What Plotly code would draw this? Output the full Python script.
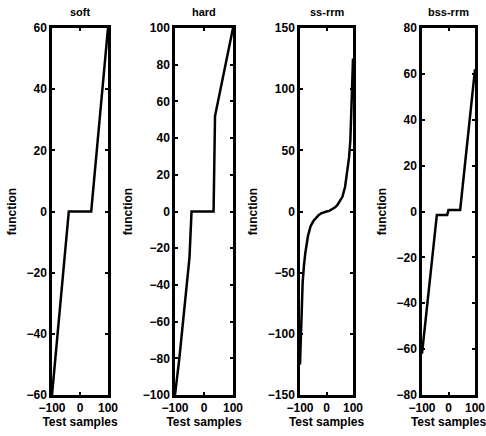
import plotly.graph_objects as go

titles = ["soft", "hard", "ss-rrm", "bss-rrm"]

soft_x = [-100, -40, 40, 100]
soft_y = [-60, 0, 0, 60]

hard_x = [-100, -85, -50, -45, -43, 33, 35, 38, 100]
hard_y = [-100, -80, -25, -5, 0, 0, 25, 52, 100]

ssrrm_x = [-100, -95, -90, -85, -80, -70, -60, -50, -40, -30, -20, -10, 0,
           10, 20, 30, 40, 50, 60, 70, 80, 85, 90, 95, 100]
ssrrm_y = [-125, -85, -58, -44, -34, -20, -12, -8, -5, -3, -1.5, -0.5, 0,
           0.5, 1.5, 3, 5, 8, 12, 20, 34, 44, 58, 85, 125]

bss_x = [-100, -44, -5, 0, 44, 100]
bss_y = [-62, -1.5, -1.5, 0.7, 0.7, 62]

x_ticks = [-100, 0, 100]
y_ticks = [
    [-60, -40, -20, 0, 20, 40, 60],
    [-100, -80, -60, -40, -20, 0, 20, 40, 60, 80, 100],
    [-150, -100, -50, 0, 50, 100, 150],
    [-80, -60, -40, -20, 0, 20, 40, 60, 80],
]
y_ranges = [[-60, 60], [-100, 100], [-150, 150], [-80, 80]]

series = [(soft_x, soft_y), (hard_x, hard_y), (ssrrm_x, ssrrm_y), (bss_x, bss_y)]

W, H = 486, 436
px_domains = [(52, 108), (175, 233), (300, 353), (422, 475)]
top_px, bot_px = 28, 395

fig = go.Figure()
font = dict(family="Liberation Sans", size=12, color="black", weight="bold")
tfont = dict(family="Liberation Sans", size=11, color="black", weight="bold")

for i, ((xs, ys), (l, r)) in enumerate(zip(series, px_domains)):
    n = "" if i == 0 else str(i + 1)
    fig.add_trace(go.Scatter(x=xs, y=ys, mode="lines",
                             line=dict(color="black", width=2.5),
                             xaxis="x" + n, yaxis="y" + n, showlegend=False))
    axcommon = dict(showline=True, linecolor="black", linewidth=2.5, mirror="ticks",
                    ticks="inside", ticklen=3, tickwidth=2, tickcolor="black",
                    showgrid=False, zeroline=False, tickfont=font, automargin=False)
    fig.layout["xaxis" + n] = dict(domain=[l / W, r / W], anchor="y" + n,
                                   range=[-100, 100], tickvals=x_ticks,
                                   title=dict(text="Test samples", font=font, standoff=3),
                                   **axcommon)
    fig.layout["yaxis" + n] = dict(domain=[1 - bot_px / H, 1 - top_px / H], anchor="x" + n,
                                   range=y_ranges[i], tickvals=y_ticks[i],
                                   title=dict(text="function", font=font, standoff=8),
                                   **axcommon)
    fig.add_annotation(text=titles[i], x=(l + r) / 2 / W, y=1 - 12 / H, xref="paper",
                       yref="paper", showarrow=False, font=tfont, xanchor="center",
                       yanchor="middle")

fig.update_layout(width=W, height=H, margin=dict(l=0, r=0, t=0, b=0),
                  paper_bgcolor="white", plot_bgcolor="white")
fig.write_html("out.html")
